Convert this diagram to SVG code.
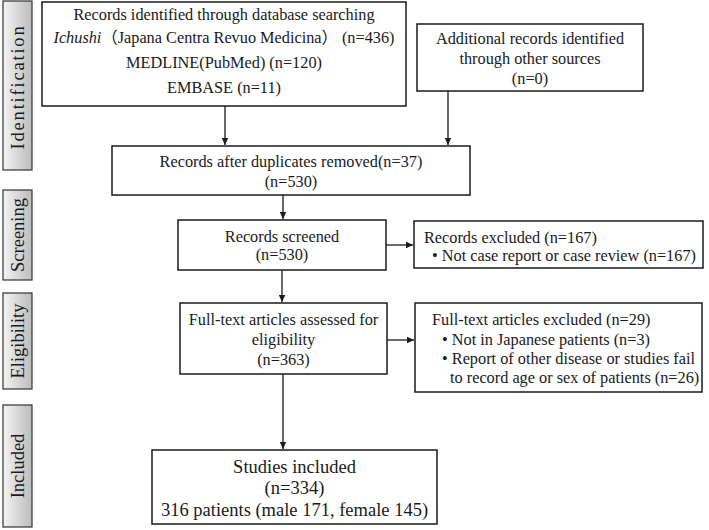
<svg xmlns="http://www.w3.org/2000/svg" width="709" height="530" viewBox="0 0 709 530">
<style>
text{font-family:"Liberation Serif","Noto Sans CJK JP",serif;fill:#1a1a1a;font-size:16.3px}
.c{text-anchor:middle}
.big{font-size:18.5px}
.box{fill:#fff;stroke:#1a1a1a;stroke-width:1.5}
.bar{fill:url(#g);stroke:#333;stroke-width:1.2}
.lab{font-size:18.5px;text-anchor:middle}
.con line{stroke:#1a1a1a;stroke-width:1.3;marker-end:url(#a)}
</style>
<defs>
<linearGradient id="g" x1="0" y1="0" x2="1" y2="0">
<stop offset="0" stop-color="#f4f4f4"/>
<stop offset="1" stop-color="#bcbcbc"/>
</linearGradient>
<marker id="a" markerWidth="8" markerHeight="8" refX="7" refY="4" orient="auto" markerUnits="userSpaceOnUse">
<path d="M0,0.8 L7,4 L0,7.2 Z" fill="#1a1a1a"/>
</marker>
</defs>

<g id="stage-identification"><rect class="bar" x="3" y="1" width="29" height="169"/><text class="lab" letter-spacing="1.8" transform="translate(24,87) rotate(-90)">Identification</text></g>
<g id="stage-screening"><rect class="bar" x="3" y="190" width="29" height="90"/><text class="lab" transform="translate(24,235) rotate(-90)">Screening</text></g>
<g id="stage-eligibility"><rect class="bar" x="3" y="293" width="29" height="96"/><text class="lab" transform="translate(24,341) rotate(-90)">Eligibility</text></g>
<g id="stage-included"><rect class="bar" x="3" y="405" width="29" height="122"/><text class="lab" transform="translate(24,466) rotate(-90)">Included</text></g>

<g id="database">
<rect class="box" x="42" y="2" width="364" height="104"/>
<text class="c" x="224" y="20">Records identified through database searching</text>
<text class="c" x="224" y="43"><tspan font-style="italic">Ichushi</tspan>（Japana Centra Revuo Medicina） (n=436)</text>
<text class="c" x="224" y="68">MEDLINE(PubMed) (n=120)</text>
<text class="c" x="224" y="93">EMBASE (n=11)</text>
</g>

<g id="additional">
<rect class="box" x="417" y="24" width="226" height="67"/>
<text class="c" x="530" y="44">Additional records identified</text>
<text class="c" x="530" y="64">through other sources</text>
<text class="c" x="530" y="84">(n=0)</text>
</g>

<g id="deduplicated">
<rect class="box" x="112" y="146" width="358" height="49"/>
<text class="c" x="291" y="167">Records after duplicates removed(n=37)</text>
<text class="c" x="291" y="187">(n=530)</text>
</g>

<g id="screened">
<rect class="box" x="178" y="220" width="208" height="50"/>
<text class="c" x="282" y="242">Records screened</text>
<text class="c" x="282" y="260">(n=530)</text>
</g>

<g id="excluded">
<rect class="box" x="414" y="221" width="289" height="47"/>
<text x="424" y="243">Records excluded (n=167)</text>
<text x="432" y="261">• Not case report or case review (n=167)</text>
</g>

<g id="fulltext">
<rect class="box" x="180" y="303" width="207" height="71"/>
<text class="c" x="283.5" y="325">Full-text articles assessed for</text>
<text class="c" x="283.5" y="345">eligibility</text>
<text class="c" x="283.5" y="365">(n=363)</text>
</g>

<g id="fulltext-excluded">
<rect class="box" x="415" y="303" width="287" height="89"/>
<text x="432" y="325">Full-text articles excluded  (n=29)</text>
<text x="442" y="345">• Not in Japanese patients (n=3)</text>
<text x="442" y="364">• Report of other disease or studies fail</text>
<text x="450" y="383">to record age or sex of patients (n=26)</text>
</g>

<g id="included">
<rect class="box" x="152" y="450" width="285" height="74"/>
<text class="c big" x="294.5" y="473">Studies included</text>
<text class="c big" x="294.5" y="494">(n=334)</text>
<text class="c big" x="294.5" y="516">316 patients (male 171, female 145)</text>
</g>

<g id="connectors" class="con">
<line x1="225" y1="106" x2="225" y2="145"/>
<line x1="448" y1="91" x2="448" y2="145"/>
<line x1="283" y1="195" x2="283" y2="219"/>
<line x1="386" y1="245" x2="413" y2="245"/>
<line x1="282" y1="270" x2="282" y2="302"/>
<line x1="387" y1="340" x2="414" y2="340"/>
<line x1="283" y1="374" x2="283" y2="449"/>
</g>
</svg>
